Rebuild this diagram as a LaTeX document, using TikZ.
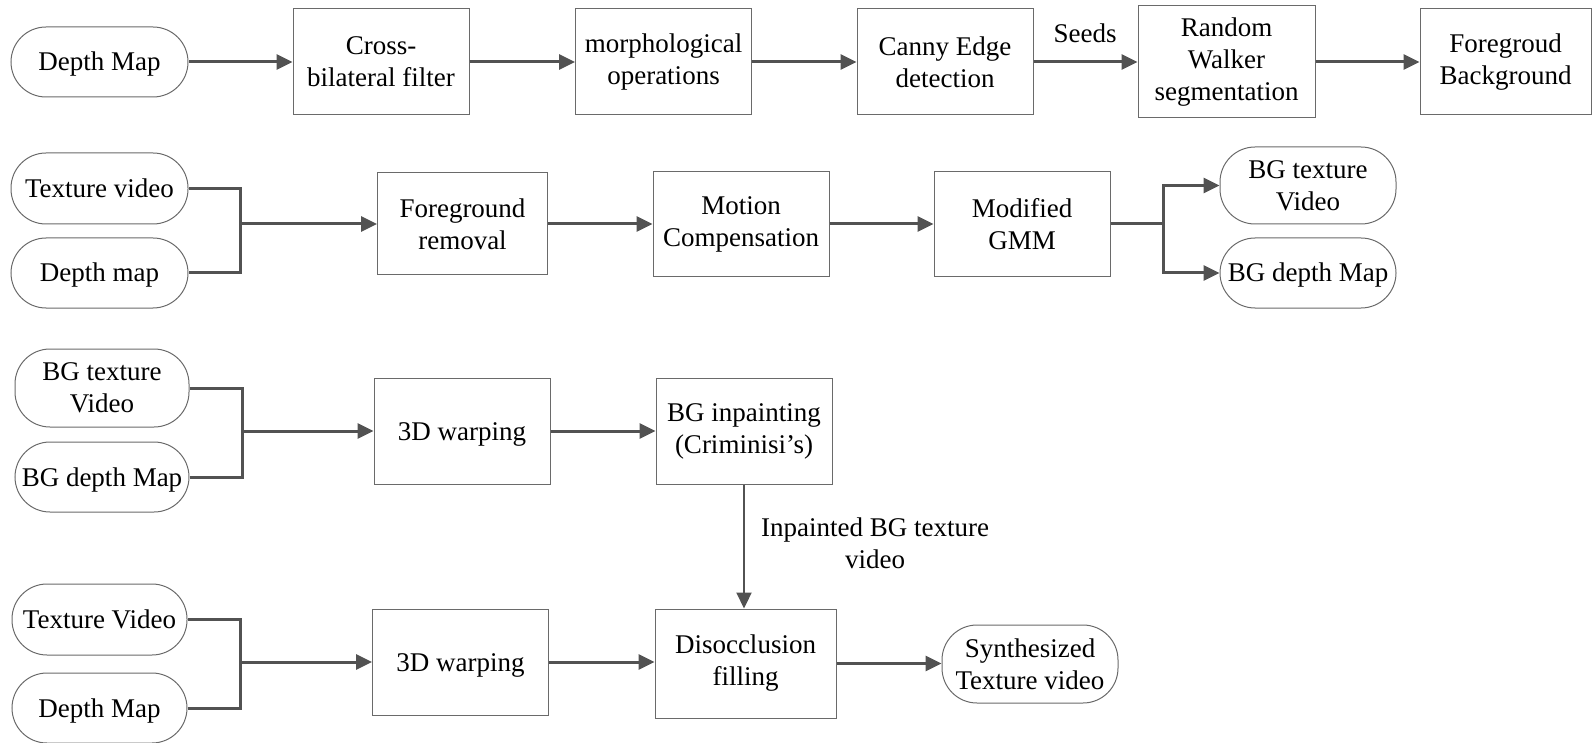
\documentclass[tikz,border=0pt]{standalone}
\usepackage{fontspec}
\setmainfont{Liberation Serif}
\usetikzlibrary{arrows.meta}
\definecolor{linegray}{HTML}{525252}
\definecolor{boxgray}{HTML}{6A6A6A}
\tikzset{
  every node/.style={font=\fontsize{27}{32}\selectfont, align=center, inner sep=0pt},
  box/.style={draw=boxgray, line width=1pt, minimum width=#1},
  box/.default=176pt,
  pill/.style={draw=boxgray, line width=1pt, rounded corners=35pt, minimum width=177pt},
  one/.style={text height=22pt, text depth=4pt},
  conn/.style={draw=linegray, line width=3pt},
  arr/.style={conn, -{Triangle[length=16pt,width=15pt]}},
  lbl/.style={draw=none}
}
\begin{document}
\begin{tikzpicture}[x=1pt,y=-1pt]
\useasboundingbox (0,0) rectangle (1592,743);
% Row 1
\node[pill, one, minimum height=70pt] (dm1) at (99.5,62) {Depth Map};
\node[box, minimum height=106pt] (cbf) at (381,62) {Cross-\\bilateral filter};
\node[box, minimum height=106pt] (mor) at (663.5,62) {morphological\\operations};
\node[box, minimum height=106pt] (can) at (945,62) {Canny Edge\\detection};
\node[box=177pt, minimum height=112pt] (rw) at (1226.5,62) {Random\\Walker\\segmentation};
\node[box=171pt, minimum height=106pt] (fgbg) at (1505.5,62) {Foregroud\\Background};
\node[lbl, one] (seeds) at (1085,34) {Seeds};
\draw[arr] (dm1) -- (cbf);
\draw[arr] (cbf) -- (mor);
\draw[arr] (mor) -- (can);
\draw[arr] (can) -- (rw);
\draw[arr] (rw) -- (fgbg);
% Row 2
\node[pill, one, minimum height=71pt] (tv2) at (99.5,188.5) {Texture video};
\node[pill, one, minimum height=70pt] (dm2) at (99.5,273) {Depth map};
\node[box=170pt, minimum height=102pt] (fr) at (462.5,224) {Foreground\\removal};
\node[box, minimum height=105pt] (mc) at (741,224) {Motion\\Compensation};
\node[box, minimum height=105pt] (gmm) at (1022,224) {Modified\\GMM};
\node[pill, minimum width=176pt, minimum height=77pt] (bgt2) at (1308,185.5) {BG texture\\Video};
\node[pill, one, minimum width=176pt, minimum height=70pt] (bgd2) at (1308,273) {BG depth Map};
\coordinate (j2a) at (240,224);
\coordinate (j2b) at (1163.5,224);
\draw[conn] (tv2.east) -| (j2a) |- (dm2.east);
\draw[arr] (j2a) -- (fr);
\draw[arr] (fr) -- (mc);
\draw[arr] (mc) -- (gmm);
\draw[conn] (gmm.east) -- (j2b);
\draw[arr] (j2b) |- (bgt2.west);
\draw[arr] (j2b) |- (bgd2.west);
% Row 3
\node[pill, minimum width=174pt, minimum height=78pt] (bgt3) at (102,388) {BG texture\\Video};
\node[pill, one, minimum width=174pt, minimum height=70pt] (bgd3) at (102,477) {BG depth Map};
\node[box, one, minimum height=106pt] (w3) at (462,431) {3D warping};
\node[box, minimum height=106pt] (inp) at (744,431) {BG inpainting\\(Criminisi’s)};
\coordinate (j3) at (242,431);
\draw[conn] (bgt3.east) -| (j3) |- (bgd3.east);
\draw[arr] (j3) -- (w3);
\draw[arr] (w3) -- (inp);
% Row 4
\node[pill, one, minimum width=175pt, minimum height=71pt] (tv4) at (99.5,619.5) {Texture Video};
\node[pill, one, minimum width=175pt, minimum height=70pt] (dm4) at (99.5,708) {Depth Map};
\node[box, one, minimum height=106pt] (w4) at (460.5,662) {3D warping};
\node[box=181pt, minimum height=109pt] (dis) at (745.5,663.5) {Disocclusion\\filling};
\node[pill, minimum width=176pt, minimum height=78pt] (syn) at (1030,664) {Synthesized\\Texture video};
\coordinate (j4) at (240.5,662);
\draw[conn] (tv4.east) -| (j4) |- (dm4.east);
\draw[arr] (j4) -- (w4);
\draw[arr] (w4.east) -- (w4.east -| dis.west);
\draw[arr] (dis.east) -- (dis.east -| syn.west);
% vertical connector
\draw[arr, line width=2.2pt] (inp.south) -- (inp.south |- dis.north);
\node[lbl] (inplbl) at (875,543) {Inpainted BG texture\\video};
\end{tikzpicture}
\end{document}
